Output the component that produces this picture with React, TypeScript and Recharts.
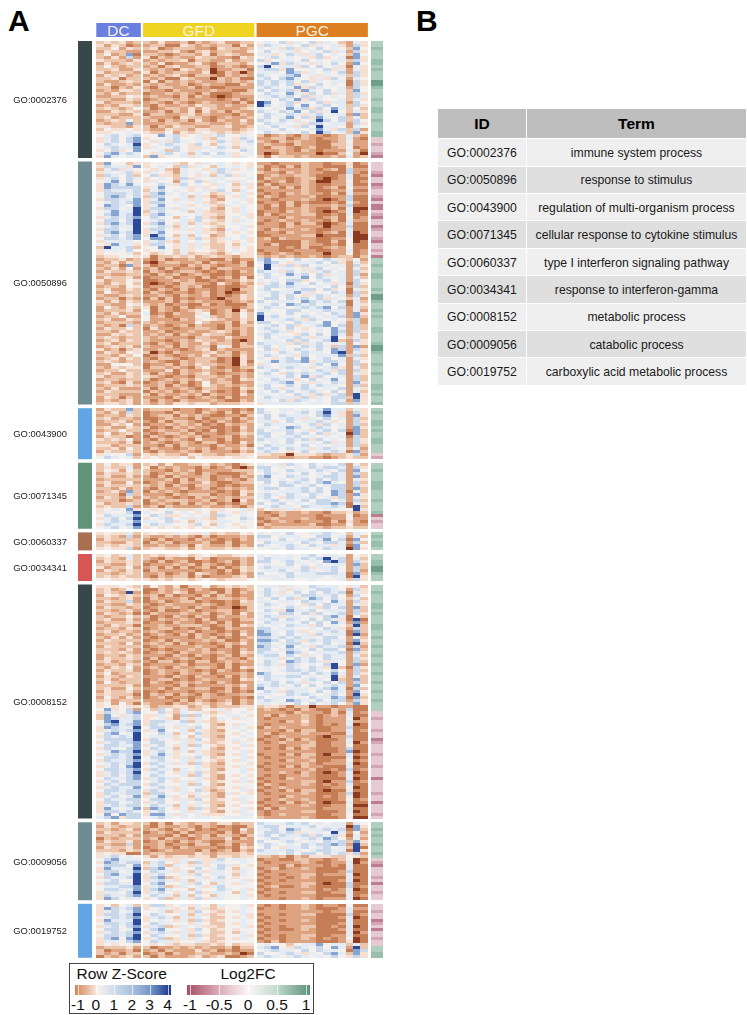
import { ScatterChart, Scatter, XAxis, YAxis, ReferenceArea } from 'recharts';

// Row strings: one digit per sample, binned z-score.
// 0 = darkest brown (below -1), 5 = about zero, 9 = navy (about 4). Groups: DC GFD PGC.
const ROWS_0002376 = [
  '343423 324223132342233 565746574653264', '424312 233114323233142 476565746564274', '335243 341233322143323 656474657565385',
  '243322 223342134233224 575664565746274', '352381 332123324134322 664576467565385', '324272 413232243322143 567565647456184',
  '433324 232334133224233 745665756566374', '242343 324122342133324 568476546575285', '353233 231342233123212 795664757564164',
  '334224 323214323022331 677485565746264', '423332 413233224013202 666587465657274', '243423 232342133213232 765678564656374',
  '334133 323114322032311 675786546475265', '322343 141323232232323 767675746566174', '242232 323223123221132 767574657565174',
  '331324 213322312112222 676568476556275', '232443 322132222322113 757674865756385', '324233 122323213111233 576586475746374',
  '223354 232213132101222 667675746565376', '332243 123323222212312 565768476556364', '423332 232132123222131 985674657466275',
  '232443 213223243323223 975675856756374', '343235 312332424322234 656586747586353', '224343 223132414231322 765768574695364',
  '333224 133223423222132 576576467566283', '342333 322214332123223 675685748657363', '234353 231323142132242 765764569757375',
  '323383 222332233223232 576656477566274', '443324 313243322334223 657564759665265', '354454 322433244333234 665756568647372',
  '445565 433524345434345 576565759756384', '567567 558674564675565 312321322123632', '467578 455675564365476 223312321223621',
  '467578 546476565476467 321323221123522', '576569 456765475365456 232213221133622', '567668 465675446576365 213321231123512',
  '457458 556375465665576 222321321222631', '578676 546756367576456 201322220113520', '486566 384556465666465 314332322232623',
];
const ROWS_0050896 = [
  '385534 455643546565454 221222322122412', '476648 456537465365654 312131322111411', '367465 546326554676456 213222321231722',
  '465674 465426565476555 322132322111721', '376573 574436546367465 123223321112612', '467576 456537465665556 132212331012611',
  '568575 465526574656465 212312320022512', '487686 557647565465364 131222321122611', '487777 468556464565454 223131321231522',
  '476667 367565456475365 122222321122611', '577767 478656565346564 212132322131622', '578757 377556364235465 132122231122711',
  '477668 468546465325564 221222321012711', '567678 477565564345654 122131211121621', '587658 468556456436565 213131322232711',
  '477569 477646565325465 212122321131600', '568669 367556364335465 122132321012601', '578679 478655564435564 131222331121611',
  '467678 576536574325654 222132221231512', '577579 567556475435465 212322322131622', '478679 478546364345655 122131331012611',
  '567669 567636565435564 222132222022711', '477569 477546464326565 213222321122611', '578679 468555564435454 122132221231601',
  '467578 497536365235565 112222330111600', '577678 588646474346564 231322221122500', '466665 467436565345454 221111321131501',
  '548664 477546464335365 213111322121511', '396673 558546465335454 222121311232511', '466575 456536455435654 122112221122612',
  '455563 534536344324544 212321222022512', '344554 413343423433244 323232232123313', '233423 213122322113122 785657565764352',
  '324243 102332231322131 687546667574263', '233183 312221323212231 596474756656274', '324252 231312213133222 695665467565263',
  '243343 132123321212132 766475646756274', '332233 213231232112122 675686757466272', '243342 122312213123141 576566857656263',
  '423354 112232311212243 656577456756275', '324353 101213322142132 467586575646174', '233254 122123231121123 577676656575273',
  '342243 213213122121033 675566775745164', '253233 132122123120123 567668645576173', '322343 223213223121243 657575467656274',
  '233132 131312122102243 577576757465362', '424243 222313232221232 756665876757163', '332254 323122113121113 667587675666164',
  '253243 413213122222123 576656767857263', '233342 513212343123042 665577566766262', '324233 612132245123253 856575656576284',
  '233522 523122256323253 967565765667283', '342243 522213245432243 956676476565372', '233332 323222253223142 775657665856272',
  '323173 232123132213133 567574567857273', '243353 142212233213232 676575456586273', '332433 223122322343132 567645656587274',
  '224343 232313224332132 676554757586263', '343233 323222133224222 575667646695363', '234243 322123243323102 566574756793274',
  '342333 213213224233132 766647467566254', '234342 322313233164133 675655767637282', '423134 223221234132222 574657657587274',
  '243254 302132223423132 665765766589264', '332435 123212324233142 576564756668373', '234243 213321233312042 654675856756264',
  '343233 232113233212041 568677846776275', '225553 122313243322042 465666567585273', '324344 133232135212133 765676645674263',
  '233533 222413223223121 567565657647274', '342243 313213234212232 675476766757264', '423343 432122133323132 566575847566273',
  '233233 312323243232143 657664575685273', '342142 123213125233122 566785646576284', '233343 223132125323232 675575757665273',
  '324222 313223213322143 576466765657264', '243333 132312324212131 657575676575263', '333222 313223231322142 665657647467294',
  '243132 222132123213122 576664746577394', '232342 313213222321132 665747656576284', '344342 323244344233344 466666566577374',
];
const ROWS_0043900 = [
  '243383 233312212322121 755665656866364', '324273 122132213213132 765656757964274', '233243 123313232112213 575766657864284',
  '342332 112322131223132 675676465756273', '233423 213133212132123 664575667645274', '224352 122323231213232 576656574756273',
  '342243 312132322112142 665687567656284', '233533 123223121312132 756675646757183', '352342 212332312212243 775576757465083',
  '243312 132123231223132 675667565656173', '434352 213232142213122 766576747565274', '333241 232123213312142 656575665746274',
  '442333 221313222132231 576665756566273', '334253 132212323123243 767576646765362', '243343 213223213222132 676545756676183',
  '465572 434332443323344 443304443233472', '576563 454445354445445 333223322123433',
];
const ROWS_0071345 = [
  '353442 342422334232134 656476575657263', '343362 413232213123102 775656576776274', '354253 322132312222333 675576657657285',
  '243343 312323213211123 576565756576273', '342242 213132223122132 785576656776283', '233333 222313133123213 775656757576264',
  '342252 123213224211233 575767657865273', '243343 323132133212122 665775675677274', '332423 213223123123232 677566757577283',
  '234283 132321222212143 565666767587163', '333173 222132333122142 676576576587284', '243242 323212132323233 675476675647264',
  '333123 132333223123042 567565757756273', '423343 123213132312132 756756567787164', '343372 231322223223213 567665766676193',
  '456584 545644465445564 354464555655594', '465579 655756545365465 212322322133423', '576668 576445656376565 221322221222512',
  '467579 456756464365576 123222321122522', '567668 665745365466565 212321222131421', '476679 576655475365455 132222231122522',
  '567568 454545454565545 323333333233433',
];
const ROWS_0060337 = [
  '454463 454465446343354 656575566765365', '343272 322323213122232 775666557756263', '243333 213122132212132 665756676857185',
  '332243 132312223113122 576665765776273', '343443 223223143223132 765676576646185', '454472 344334243334344 556576655766084',
];
const ROWS_0034341 = [
  '453463 343445345433454 656565675665254', '343263 321322143122232 676665767967263', '243343 213123112123132 775676565897274',
  '332243 122232313212132 565575656566283', '423352 231313123131243 676665746675273', '243243 132222212213143 566756765675272',
  '332343 223123143212132 755675667776183', '343433 213233131222342 666576666566194', '554454 434344345434445 556665565556374',
];
const ROWS_0008152 = [
  '444543 253241335234343 666465576665463', '342354 113232132113123 575646567765274', '343292 123243122313132 676457575767164',
  '254343 231312213132122 575666776675275', '332342 132223132233232 657574687575363', '243372 123123312112143 665665766586274',
  '332243 212322223212133 576565475766264', '243323 123232132122013 665576564757283', '332342 213112312233123 576486675666273',
  '243231 132223223123142 665775747567274', '323353 312132132132232 576466565786153', '342242 213223213122133 667576575764191',
  '233343 122132212313122 576665757586282', '324331 223223332123143 656576647565393', '233243 123312123113222 775665565764273',
  '342332 232122312212132 876576456676183', '233423 123213132123142 886575647566192', '324242 212222132312123 776767665775263',
  '243333 123132223231132 887576476766284', '333252 232313122123242 775677565756193', '243333 123222232213122 876585647667272',
  '333242 212122323122132 775676575775183', '343432 123213223232143 766587656667274', '233243 222132132123132 677575465766263',
  '243343 131223212132213 566467675766274', '342332 213312133123232 576587676465273', '233243 122223122213122 676476565795282',
  '324352 232132233213143 565576576493174', '243342 123223212132121 565677676575273', '352333 123213223122232 875566757686274',
  '243243 222132132213132 676677565694263', '342333 123312123222143 576565676593283', '253233 132123232132122 667576465757273',
  '333342 122213122223242 767657575676285', '342253 223132233113132 856566656786173', '243342 121222122123121 576476657576285',
  '343331 132313213212233 665576765675294', '253242 123122123222121 756665576687183', '342333 222213132123132 676587657577274',
  '452531 322132343234132 665657575675384', '454544 423344234233344 344313302212211', '584572 537536335464554 232121321132711',
  '476578 557436564346565 222213222131612', '385467 446527375456654 231322321232611', '387667 456426465365465 212222321222502',
  '589668 477657364345555 222132421222622', '578678 476566565325465 212222321212601', '487669 577546475345654 132322221122711',
  '467678 468556364325565 222131331122612', '578569 557636574335456 231222322211611', '476769 566645364325565 212322221022711',
  '577779 476546475335654 122131321112611', '467678 577556464345465 212322231122602', '577668 467546375435564 222122331122511',
  '476578 576636565325455 212131321112711', '568779 467546364335564 222222221112801', '467678 468645564325465 122131331022612',
  '577679 577546475345564 212222321111601', '476678 567556465435465 222132231122512', '567679 476646374325554 212222321222601',
  '467589 567555564335465 122131322111611', '577678 476636565325564 212222231121712', '467679 567546474345565 222321321012601',
  '467578 576556375325454 212122321112611', '576678 467645564325565 122132221111601', '467577 567546465345464 212222331022712',
  '576777 476556375325555 132122321212611', '467668 567646564345465 212322221122501', '577677 476546574235564 122131331011611',
  '476677 377556465326454 212222321112701', '467568 468645364325565 222132221212601', '576677 577546475345465 212322321112512',
  '477567 467556564335564 122131231011611', '467677 576636465325455 212222321122500', '486568 387546374345564 131322221222611',
  '477676 467556465325465 212222331112601', '585877 488646564445566 212322221122511', '678477 567656566556665 322222321112500',
];
const ROWS_0009056 = [
  '342443 313143233244233 765676756566265', '243233 213223213212113 677566675666084', '332342 232132312122142 667587566767183',
  '243333 123213122213132 577674656596252', '333242 222131323133213 675766747674163', '132333 231322123224132 567665676875262',
  '243342 123213232113222 755676565767384', '332272 223122133123132 676565767787293', '243342 123213222212143 575466756756391',
  '333243 212322213123132 766676567766194', '454411 233222243233343 666575775767472', '467565 424344344244344 332313244433543',
  '578666 556446564475665 122113322123501', '487677 367546374665565 212222321122602', '577758 467365464576454 222131222121611',
  '486669 378545575675365 123122321111611', '477568 576646364665465 212222221112711', '578669 467556475665365 122122331222601',
  '476679 478345564575455 212212321111611', '567559 467646365665564 122122221112601', '477669 578556475365465 212222331011711',
  '566778 467346564675555 123112321111712', '577668 478655365576564 212222221212601', '466579 467546574665365 122122331122611',
  '476678 576636365365564 212222221111612', '487566 457346474665565 222122321222601',
];
const ROWS_0019752 = [
  '453563 477456465365564 212122321221511', '487678 456645364345565 122122321112622', '467568 556346475435465 222222222122611',
  '477679 576556364345564 122122331111712', '567678 467636465335454 212222221112601', '486669 456546374345565 122122321111611',
  '577679 576655465335465 212222221112611', '467578 467346564435564 122122331121601', '577569 578556475345455 212112321112611',
  '467678 467646465335365 122222221111602', '577679 576556374345564 212122331122611', '478589 467346465335465 122122321212501',
  '466578 576645564345555 213122221112401', '454554 545434433435344 565535668566363', '233342 312232323223133 678547657586293',
  '312231 231322242312122 567665757665187', '323133 123132233223201 755676465786384', '132342 313222342341123 676567656575474',
];

// Log2FC strip, one digit per row: 1-3 pink (negative), 7-9 green (positive)
const FC_BY_BLOCK = [
  '778777887877799877787788778777883323 3213'.replace(' ', ''),
  '333213312332131132133123321332317787788777879987787877788777899877787787778878778',
  '78778878778877732',
  '7787778887778777813233',
  '787887',
  '778899877',
  '7787778878777887787787787787787787787787773323332331233323332333133332331333233',
  '77878778778732133323133233',
  '332331231332337788',
];

const BLOCK_IDS = ['GO:0002376', 'GO:0050896', 'GO:0043900', 'GO:0071345', 'GO:0060337', 'GO:0034341', 'GO:0008152', 'GO:0009056', 'GO:0019752'];
const BLOCK_ROWS = [ROWS_0002376, ROWS_0050896, ROWS_0043900, ROWS_0071345, ROWS_0060337, ROWS_0034341, ROWS_0008152, ROWS_0009056, ROWS_0019752];
const BLOCK_COLORS = ['#37474a', '#6f8c92', '#62a5e5', '#609377', '#a86f50', '#d65656', '#37474a', '#6f8c92', '#62a5e5'];

const GROUPS = ['DC', 'GFD', 'PGC'];
const GROUP_SIZES = [6, 15, 15];
const GROUP_COLORS = ['#6b7fe0', '#f0d422', '#dc7f20'];

const TERM_IDS = BLOCK_IDS;
const TERM_NAMES = [
  'immune system process', 'response to stimulus', 'regulation of multi-organism process',
  'cellular response to cytokine stimulus', 'type I interferon signaling pathway', 'response to interferon-gamma',
  'metabolic process', 'catabolic process', 'carboxylic acid metabolic process',
];

const Z_TICKS = [-1, 0, 1, 2, 3, 4];
const FC_TICKS = [-1, -0.5, 0, 0.5, 1];

const Z_COLORS = ['#8c3a20', '#c47d55', '#dda27f', '#ecc5ad', '#f5e0d3', '#f3f0ee', '#e4ebf3', '#c8d8ea', '#86a4d2', '#2c4a98'];
const FC_COLORS: Record<string, string> = { '1': '#bd7d90', '2': '#d4a6b5', '3': '#e6cbd4', '7': '#b0cfc0', '8': '#98bfac', '9': '#6f9f89' };

const COL_W = 7.42;
const ROW_H = 3;
const GROUP_GAP = 0.3;
const BLOCK_GAP = 1.2;
const SANS = '"Liberation Sans", Arial, sans-serif';

const heatCells: { x: number; y: number; level: number }[] = [];
const fcCells: { x: number; y: number; level: string }[] = [];
const blockSpans: { start: number; end: number }[] = [];

let rowCursor = 0;
BLOCK_ROWS.forEach((rows, b) => {
  rows.forEach((row, i) => {
    const y = rowCursor + i + 0.5;
    let x = 0;
    row.split(' ').forEach((part, g) => {
      part.split('').forEach((d) => {
        heatCells.push({ x: x + 0.5, y, level: Number(d) });
        x += 1;
      });
      x = (g + 1) * GROUP_GAP + GROUP_SIZES.slice(0, g + 1).reduce((a, c) => a + c, 0);
    });
    fcCells.push({ x: 37.86, y, level: FC_BY_BLOCK[b][i] ?? '7' });
  });
  blockSpans.push({ start: rowCursor, end: rowCursor + rows.length });
  rowCursor += rows.length + BLOCK_GAP;
});

const HeatCell = (props: any) => (
  <rect
    x={props.cx - COL_W / 2}
    y={props.cy - ROW_H / 2}
    width={COL_W}
    height={ROW_H}
    fill={Z_COLORS[props.payload.level]}
    shapeRendering="crispEdges"
  />
);

const FcCell = (props: any) => (
  <rect
    x={props.cx - 5.85}
    y={props.cy - ROW_H / 2}
    width={11.7}
    height={ROW_H}
    fill={FC_COLORS[props.payload.level]}
    shapeRendering="crispEdges"
  />
);

function Heatmap() {
  let groupStart = 0;
  return (
    <ScatterChart width={390} height={965} margin={{ top: 0, right: 0, bottom: 0, left: 0 }} style={{ position: 'absolute', left: 0, top: 0, filter: 'blur(0.4px)' }}>
      <XAxis type="number" dataKey="x" domain={[-96.3 / COL_W, (390 - 96.3) / COL_W]} allowDataOverflow hide />
      <YAxis type="number" dataKey="y" domain={[-41 / ROW_H, (965 - 41) / ROW_H]} reversed allowDataOverflow hide width={0} />
      {GROUPS.map((g, i) => {
        const x1 = groupStart + i * GROUP_GAP;
        groupStart += GROUP_SIZES[i];
        return (
          <ReferenceArea
            key={g}
            x1={x1}
            x2={x1 + GROUP_SIZES[i]}
            y1={-6}
            y2={-1.33}
            fill={GROUP_COLORS[i]}
            fillOpacity={1}
            stroke="none"
            label={{ value: g, position: 'center', fill: '#f6f3e6', fontSize: 15.5, fontFamily: SANS }}
          />
        );
      })}
      {blockSpans.map((s, i) => (
        <ReferenceArea
          key={BLOCK_IDS[i]}
          x1={-2.466}
          x2={-0.58}
          y1={s.start}
          y2={s.end}
          fill={BLOCK_COLORS[i]}
          fillOpacity={1}
          stroke="none"
          label={{ value: BLOCK_IDS[i], position: 'left', offset: 11, fill: '#222', fontSize: 9.4, fontFamily: SANS }}
        />
      ))}
      <Scatter data={heatCells} shape={HeatCell} isAnimationActive={false} />
      <Scatter data={fcCells} shape={FcCell} isAnimationActive={false} />
    </ScatterChart>
  );
}

function ColorBar({ left, width, gradient, ticks, tickX, labelColor = '#111' }: any) {
  return (
    <>
      <div style={{ position: 'absolute', left, top: 985, width, height: 10, background: gradient }} />
      {ticks.map((t: number) => (
        <div key={t}>
          <div style={{ position: 'absolute', left: tickX(t), top: 985, width: 1, height: 10, background: 'rgba(255,255,255,0.7)' }} />
          <div style={{ position: 'absolute', left: tickX(t) - 20, top: 996, width: 40, textAlign: 'center', fontSize: 15.5, lineHeight: '18px', color: labelColor }}>{t}</div>
        </div>
      ))}
    </>
  );
}

function TermTable() {
  const cell = (bg: string, h: number, extra: object = {}) => ({
    background: bg, height: h, display: 'flex', alignItems: 'center', justifyContent: 'center', color: '#1a1a1a', paddingTop: 1, boxSizing: 'border-box' as const, ...extra,
  });
  return (
    <div style={{ position: 'absolute', left: 438, top: 109, width: 308, display: 'grid', gridTemplateColumns: '88px 219px', gap: 1, fontSize: 12.2 }}>
      <div style={cell('#bebebe', 29.3, { fontWeight: 700, fontSize: 15.5, color: '#000' })}>ID</div>
      <div style={cell('#bebebe', 29.3, { fontWeight: 700, fontSize: 15.5, color: '#000' })}>Term</div>
      {TERM_IDS.map((id, i) => {
        const bg = i % 2 === 0 ? '#efefef' : '#dfdfdf';
        return [
          <div key={id} style={cell(bg, 26.4)}>{id}</div>,
          <div key={id + 't'} style={cell(bg, 26.4)}>{TERM_NAMES[i]}</div>,
        ];
      })}
    </div>
  );
}

export default function App() {
  return (
    <div style={{ position: 'absolute', left: 0, top: 0, width: 747, height: 1015, overflow: 'hidden', background: '#fff', fontFamily: SANS }}>
      <Heatmap />
      <div style={{ position: 'absolute', left: 8, top: 4, fontSize: 30, fontWeight: 700, lineHeight: '34px', color: '#000' }}>A</div>
      <div style={{ position: 'absolute', left: 416, top: 4, fontSize: 30, fontWeight: 700, lineHeight: '34px', color: '#000' }}>B</div>
      <TermTable />
      <div style={{ position: 'absolute', left: 69, top: 963, width: 245, height: 51, border: '1.5px solid #444', boxSizing: 'border-box' }} />
      <div style={{ position: 'absolute', left: 76.5, top: 965, fontSize: 15.5, lineHeight: '18px', color: '#111' }}>Row Z-Score</div>
      <div style={{ position: 'absolute', left: 220.5, top: 965, fontSize: 15.5, lineHeight: '18px', color: '#111' }}>Log2FC</div>
      <ColorBar
        left={75}
        width={96}
        gradient="linear-gradient(to right, #d4865a 0%, #e9bfa3 14%, #f6f1ec 24%, #c9d8ea 44%, #a3bcdc 62%, #6f90c8 80%, #24408f 97%, #24408f 100%)"
        ticks={Z_TICKS}
        tickX={(v: number) => 78 + (v + 1) * 17.9}
      />
      <ColorBar
        left={187}
        width={123}
        gradient="linear-gradient(to right, #a84d63 0%, #d9a9b6 25%, #fbf6f7 50%, #c5dbd0 72%, #5c927a 100%)"
        ticks={FC_TICKS}
        tickX={(v: number) => 248 + v * 58}
      />
    </div>
  );
}
